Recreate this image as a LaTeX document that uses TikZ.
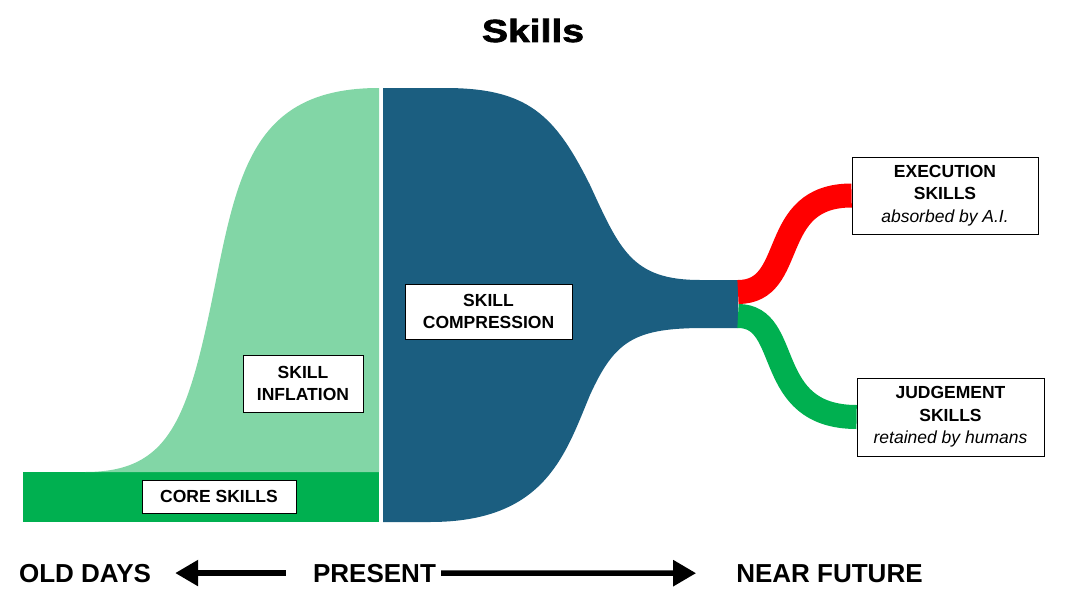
\documentclass[tikz,border=0pt]{standalone}
\usepackage{fontspec}
\setmainfont{Liberation Sans}
\newfontfamily\titlefont[BoldFeatures={FakeBold=2}]{Liberation Sans}
\usetikzlibrary{positioning}
\usetikzlibrary{arrows.meta}

\definecolor{inflgreen}{HTML}{82D6A6}
\definecolor{coregreen}{HTML}{00B050}
\definecolor{funnelblue}{HTML}{1B5E80}
\definecolor{execred}{HTML}{FF0000}

\begin{document}
\begin{tikzpicture}[x=1pt, y=-1pt,
    labelbox/.style={draw, rectangle, fill=white, line width=0.8pt, align=center, inner sep=2pt,
        font=\fontsize{17.5}{22.5}\selectfont\bfseries},
    band/.style={line width=24pt},
    timeline/.style={line width=5.5pt, -{Triangle[length=23pt,width=25pt]}},
    era/.style={anchor=base, inner sep=0pt, font=\fontsize{26}{30}\selectfont\bfseries}]

    \useasboundingbox (0,0) rectangle (1068,602);

    \node[anchor=base] (title) at (533,42) {\titlefont\fontsize{32}{34}\selectfont\bfseries\scalebox{1.22}[1]{Skills}};

    % old days
    \fill[coregreen] (23,472) rectangle (379,522);
    \fill[inflgreen] (85,472) .. controls (170,472) and (188,420) .. (215,285)
        .. controls (238,170) and (255,88) .. (379,88) -- (379,472) -- cycle;

    % present
    \fill[funnelblue] (383,88) -- (445,88) .. controls (528,88) and (555,115) .. (590,185)
        .. controls (620,250) and (632,280) .. (700,280) -- (738,280) -- (738,328) -- (705,328)
        .. controls (635,328) and (615,340) .. (590,395)
        .. controls (565,455) and (545,522) .. (430,522) -- (383,522) -- cycle;
    \coordinate (neck) at (738,304);

    \node[labelbox, minimum width=154pt, minimum height=33pt] (core) at (219,496.5) {CORE SKILLS};
    \node[labelbox, minimum width=120pt, minimum height=57pt] (inflation) at (303,383.5) {SKILL\\INFLATION};
    \node[labelbox, minimum width=167pt, minimum height=55pt] (compression) at (488.5,311.5) {SKILL\\COMPRESSION};

    % near future
    \node[labelbox, minimum width=186pt, minimum height=77pt] (execution) at (945,195.5)
        {EXECUTION\\SKILLS\\{\mdseries\itshape absorbed by A.I.}};
    \node[labelbox, minimum width=187pt, minimum height=78pt] (judgement) at (950.5,417)
        {JUDGEMENT\\SKILLS\\{\mdseries\itshape retained by humans}};

    \draw[band, execred] ([yshift=12pt]neck) .. controls +(60,0) and +(-85,0) .. (execution.west);
    \draw[band, coregreen] ([yshift=-12pt]neck) .. controls +(55,0) and +(-95,0) .. (judgement.west);

    % time axis
    \node[era] (olddays) at (85,582) {OLD DAYS};
    \node[era] (present) at (374.5,582) {PRESENT};
    \node[era] (future) at (829.5,582) {NEAR FUTURE};

    \draw[timeline] ([xshift=-27pt]present.west) -- ([xshift=24pt]olddays.east);
    \draw[timeline] ([xshift=5pt]present.east) -- ([xshift=-40pt]future.west);

\end{tikzpicture}
\end{document}
